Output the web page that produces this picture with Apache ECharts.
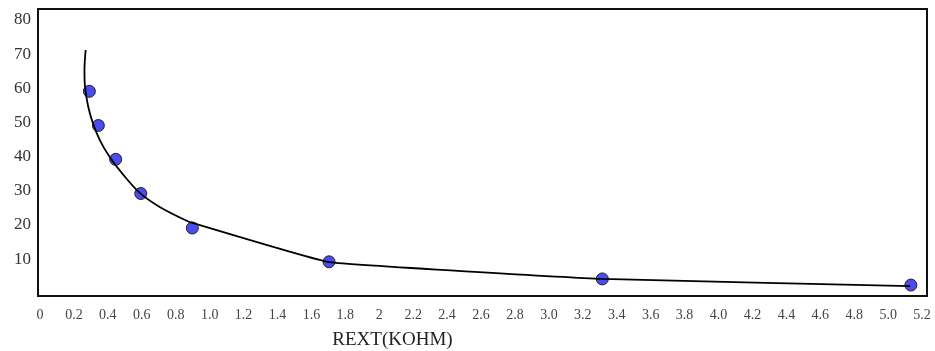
<!DOCTYPE html>
<html>
<head>
<meta charset="utf-8">
<script src="https://cdn.jsdelivr.net/npm/echarts@6/dist/echarts.min.js"></script>
<style>
html,body{margin:0;padding:0;background:#fff;}
#chart{width:935px;height:351px;}
</style>
</head>
<body>
<div id="chart"></div>
<script>
// Tick labels
var xTickLabels = ['0','0.2','0.4','0.6','0.8','1.0','1.2','1.4','1.6','1.8','2','2.2','2.4','2.6','2.8','3.0','3.2','3.4','3.6','3.8','4.0','4.2','4.4','4.6','4.8','5.0','5.2'];
var yTickLabels = ['10','20','30','40','50','60','70','80'];

// Measured points (REXT in kOhm, value)
var pointX = [0.291, 0.344, 0.446, 0.594, 0.898, 1.704, 3.315, 5.134];
var pointY = [59.1, 49.1, 39.2, 29.2, 19.1, 9.2, 4.2, 2.4];

// Fitted curve: smooth upper part
var curveX = [0.269, 0.262, 0.265, 0.283, 0.3125, 0.354, 0.413, 0.489, 0.590, 0.708, 0.884];
var curveY = [71.2, 65.1, 60.7, 54.9, 49.7, 44.7, 39.75, 34.8, 29.3, 25.2, 20.8];
// Fitted curve: nearly straight tail
var tailX = [0.884, 1.704, 3.314, 5.130];
var tailY = [20.8, 9.1, 4.2, 2.1];

var xAxisName = 'REXT(KOHM)';

var chart = echarts.init(document.getElementById('chart'));

function labelFor(list, v) {
  for (var i = 0; i < list.length; i++) {
    if (Math.abs(Number(list[i]) - v) < 1e-6) return list[i];
  }
  return '';
}
function pairs(xs, ys) { return xs.map(function (x, i) { return [x, ys[i]]; }); }

chart.setOption({
  animation: false,
  backgroundColor: '#ffffff',
  grid: {
    left: 38, right: 8, top: 9, bottom: 55,
    outerBoundsMode: 'none',
    containLabel: false,
    show: true, borderColor: '#111', borderWidth: 2, backgroundColor: 'transparent'
  },
  xAxis: {
    type: 'value',
    min: -0.0118,
    max: 5.229,
    axisLine: { show: false },
    axisTick: { show: false },
    splitLine: { show: false },
    name: xAxisName,
    nameLocation: 'middle',
    nameGap: 35,
    nameTextStyle: {
      fontFamily: 'Liberation Serif', fontSize: 19, color: '#222',
      padding: [0, 180, 0, 0]
    },
    axisLabel: {
      customValues: xTickLabels.map(Number),
      formatter: function (v) { return labelFor(xTickLabels, v); },
      fontFamily: 'Liberation Serif', fontSize: 14, color: '#444',
      margin: 12
    }
  },
  yAxis: {
    type: 'value',
    min: -0.8,
    max: 83.2,
    axisLine: { show: false },
    axisTick: { show: false },
    splitLine: { show: false },
    axisLabel: {
      customValues: yTickLabels.map(Number),
      formatter: function (v) { return labelFor(yTickLabels, v); },
      fontFamily: 'Liberation Serif', fontSize: 17, color: '#333',
      margin: 7
    }
  },
  series: [
    {
      type: 'scatter',
      z: 2,
      symbol: 'circle',
      symbolSize: 12,
      itemStyle: { color: '#4b4bf2', opacity: 1, borderColor: '#222', borderWidth: 1 },
      data: pairs(pointX, pointY)
    },
    {
      type: 'line',
      z: 3,
      smooth: 0.35,
      symbol: 'none',
      lineStyle: { color: '#000', width: 1.8 },
      data: pairs(curveX, curveY)
    },
    {
      type: 'line',
      z: 3,
      smooth: 0.08,
      symbol: 'none',
      lineStyle: { color: '#000', width: 1.8 },
      data: pairs(tailX, tailY)
    }
  ]
});
</script>
</body>
</html>
